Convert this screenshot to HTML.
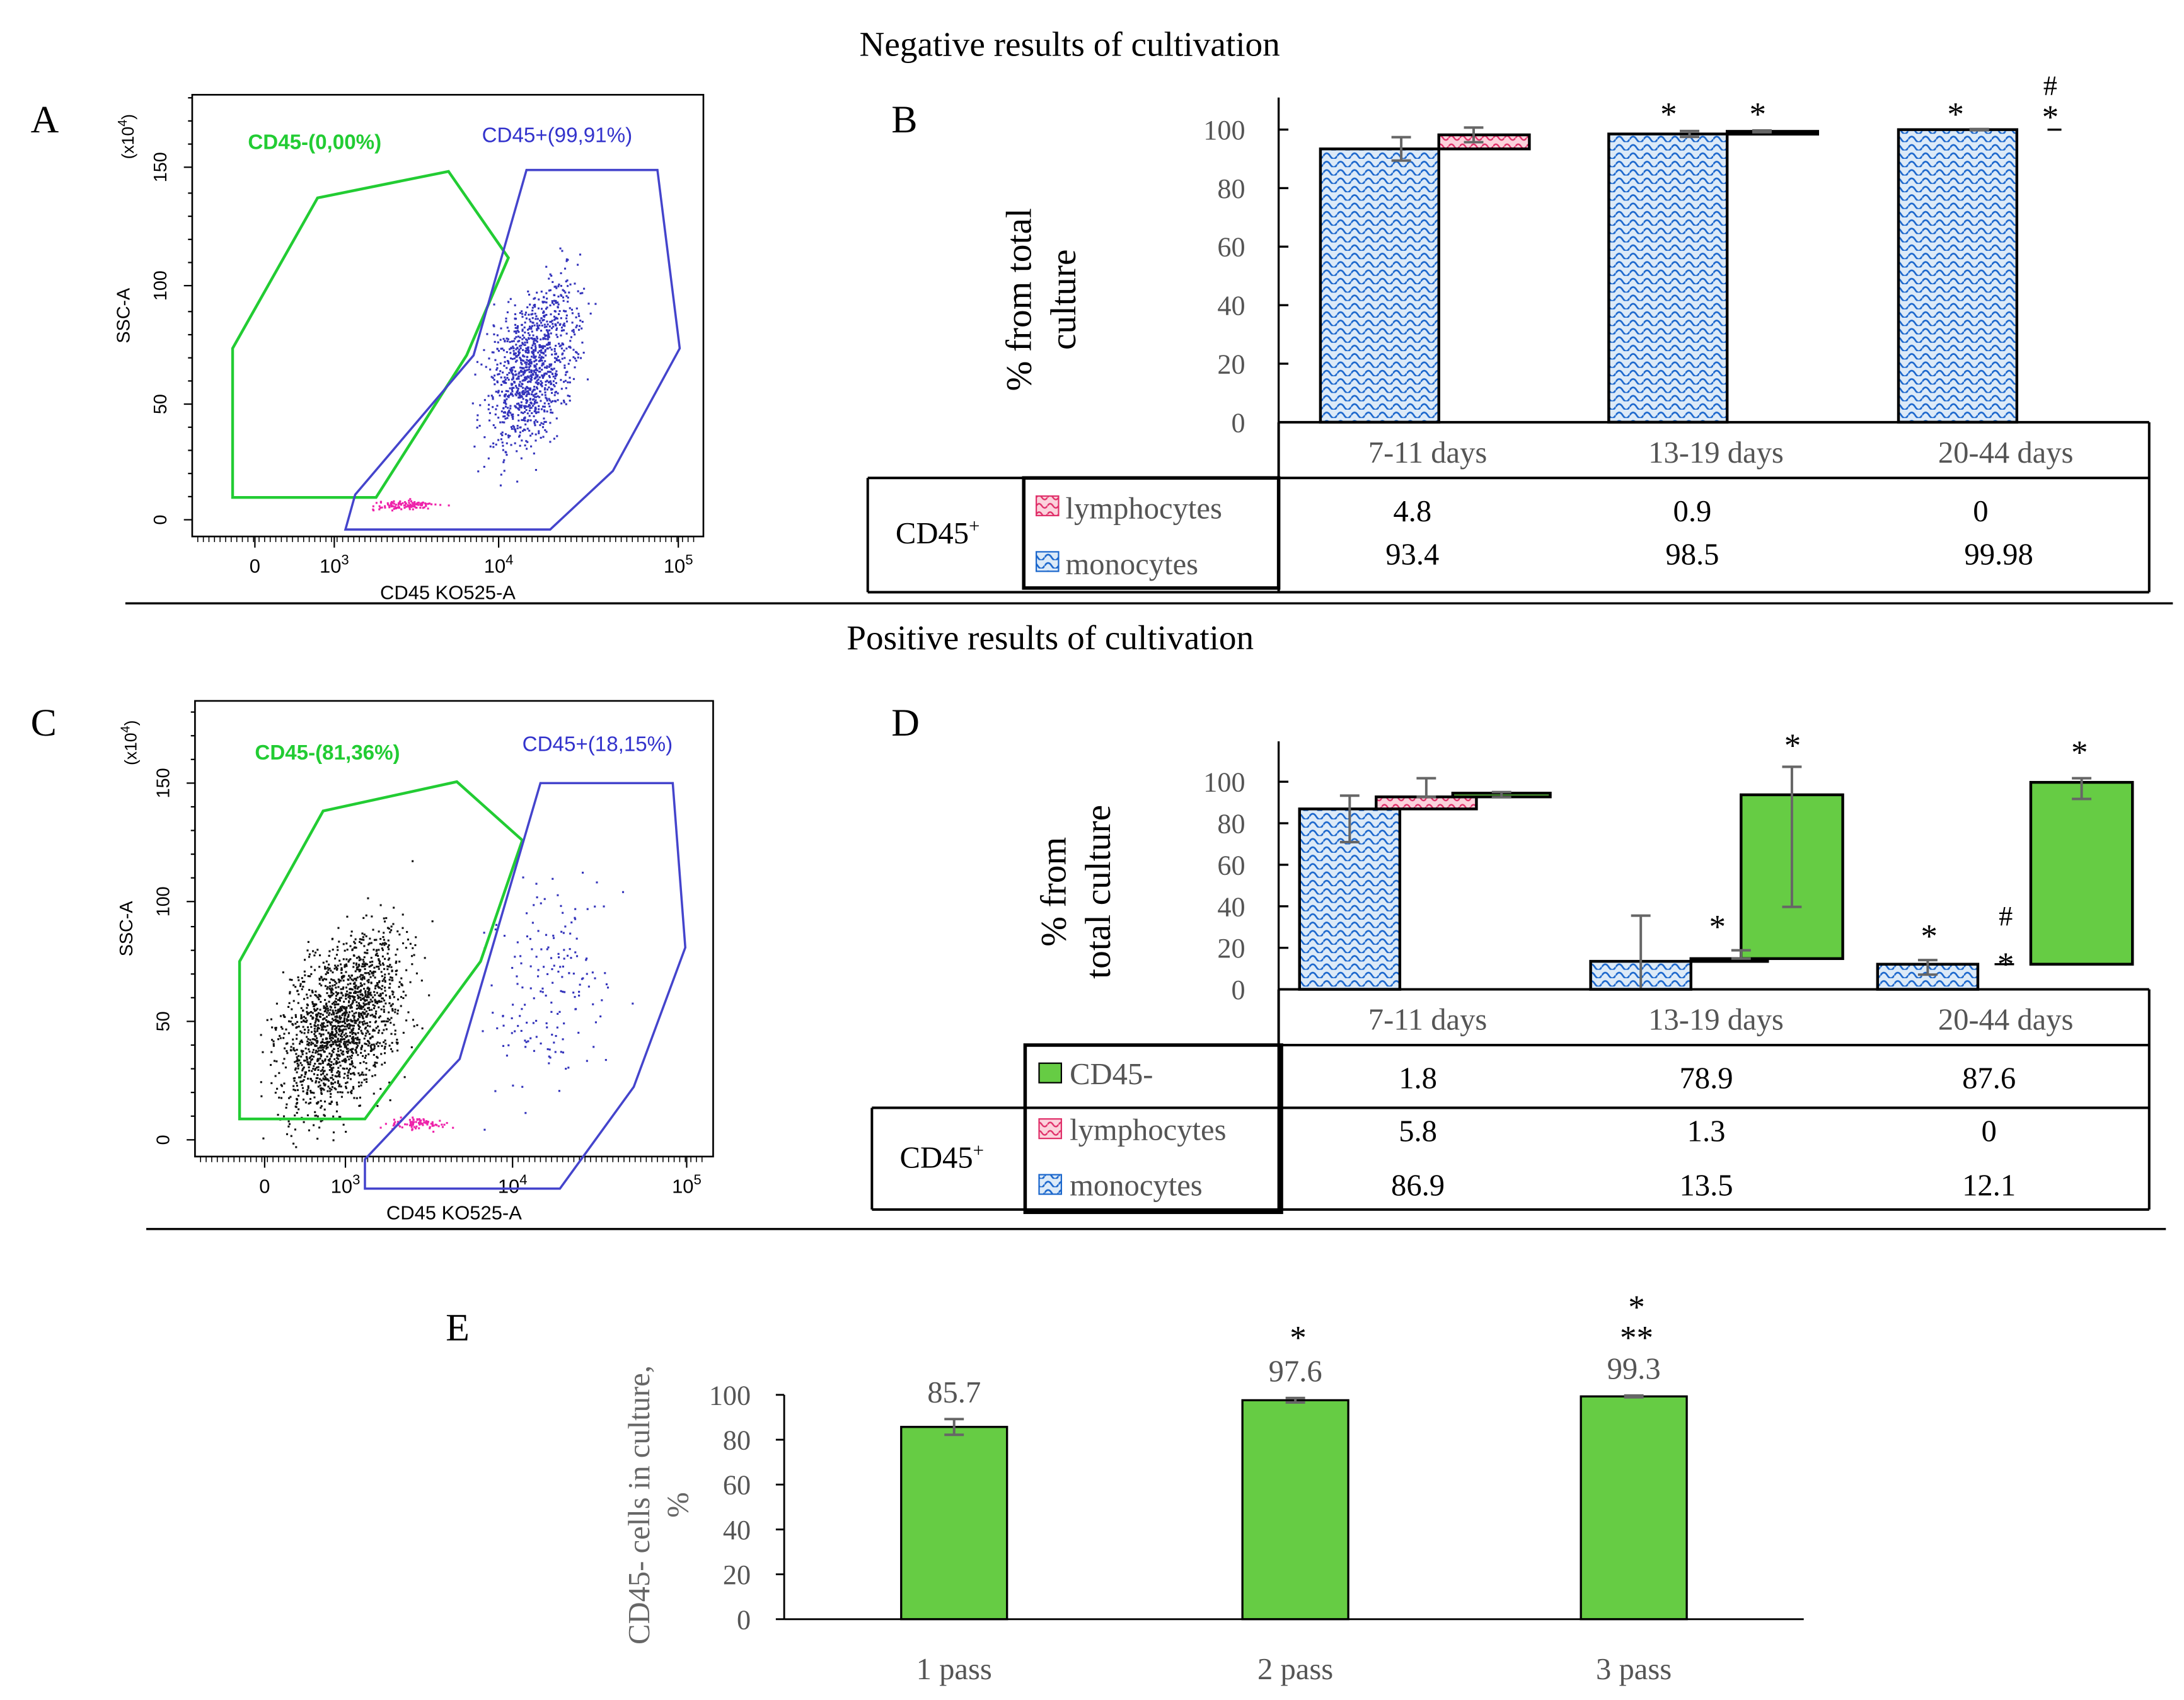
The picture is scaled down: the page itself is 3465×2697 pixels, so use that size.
<!DOCTYPE html>
<html><head><meta charset="utf-8"><style>
html,body{margin:0;padding:0;background:#fff;}
svg{display:block;}
.serif{font-family:"Liberation Serif",serif;}
.sans{font-family:"Liberation Sans",sans-serif;}
</style></head><body>
<svg id="fig" width="3465" height="2697" viewBox="0 0 1568 1220" preserveAspectRatio="none" xmlns="http://www.w3.org/2000/svg">
<defs>
<pattern id="wave" width="10" height="6" patternUnits="userSpaceOnUse">
<rect width="10" height="6" fill="#dceaf8"/>
<path d="M0 4 Q2.5 0 5 4 T10 4" fill="none" stroke="#1a66cc" stroke-width="1.2"/>
</pattern>
<pattern id="pink" width="8" height="6" patternUnits="userSpaceOnUse">
<rect width="8" height="6" fill="#fbd3dc"/>
<path d="M0 3 Q2 0 4 3 T8 3" fill="none" stroke="#e0306a" stroke-width="1.1"/>
</pattern>
</defs>
<g id="root"></g>
</svg>
<script>
// ---- Panel B data ----
const bCategories = ["7-11 days","13-19 days","20-44 days"];
const bMonocytes = [93.4, 98.5, 99.98];
const bLymphocytes = [4.8, 0.9, 0];
const bMonoErr = [4, 1, 0.2];
const bLymphErr = [2.5, 0.3, 0];
const bTicks = [0,20,40,60,80,100];
// ---- Panel D data ----
const dCategories = ["7-11 days","13-19 days","20-44 days"];
const dMonocytes = [86.9, 13.5, 12.1];
const dLymphocytes = [5.8, 1.3, 0];
const dCD45neg = [1.8, 78.9, 87.6];
const dMonoErr = [16, 55, 5];
const dLymphErr = [9, 4, 0];
const dNegErr = [1, 27, 4];
const dTicks = [0,20,40,60,80,100];
// ---- Panel E data ----
const eCategories = ["1 pass","2 pass","3 pass"];
const eValues = [85.7, 97.6, 99.3];
const eErr = [3.5, 1, 0.4];
const eTicks = [0,20,40,60,80,100];

const NS="http://www.w3.org/2000/svg";
const root=document.getElementById('root');
function el(tag,attrs,parent,txt){const e=document.createElementNS(NS,tag);for(const k in attrs)e.setAttribute(k,attrs[k]);if(txt!==undefined)e.textContent=txt;(parent||root).appendChild(e);return e;}

let t;
t=el('text',{x:768,y:40,'text-anchor':'middle','font-size':25,class:'serif',fill:'#000'},root,'Negative results of cultivation');


t=el('text',{x:754,y:466,'text-anchor':'middle','font-size':25,class:'serif',fill:'#000'},root,'Positive results of cultivation');


let ln=el('line',{x1:90,y1:433,x2:1560,y2:433,stroke:'#000','stroke-width':1.5});


ln=el('line',{x1:105,y1:882,x2:1555,y2:882,stroke:'#000','stroke-width':1.5});


[['A',22,95],['B',640,95],['C',22,528],['D',640,528],['E',320,962]].forEach(p=>{
 const e=el('text',{x:p[1],y:p[2],'font-size':28,class:'serif'},root,p[0]);
 
 
});

let seed=12345;function rnd(){seed=(seed*1103515245+12345)%2147483648;return seed/2147483648;}
function gauss(){return (rnd()+rnd()+rnd()+rnd()-2)/0.8;}

function flowPlot(cfg){
 const g=el('g',{});
 
 
 const {x0,y0,x1,y1}=cfg;
 el('rect',{x:x0,y:y0,width:x1-x0,height:y1-y0,fill:'none',stroke:'#000','stroke-width':1.2},g);
 cfg.yt.forEach(([v,y])=>{el('line',{x1:x0-6,y1:y,x2:x0,y2:y,stroke:'#000'},g);
  el('text',{x:x0-22,y:y,'font-size':13,class:'sans','text-anchor':'middle',transform:`rotate(-90 ${x0-22} ${y})`,'dominant-baseline':'middle'},g,v);
  for(let k=1;k<5;k++){const yy=y-k*(cfg.yt[0][1]-cfg.yt[1][1])/5; if(yy>y0) el('line',{x1:x0-3,y1:yy,x2:x0,y2:yy,stroke:'#000'},g);}
 });
 for(let x=x0+4;x<x1-5;x+=4){el('line',{x1:x,y1:y1,x2:x,y2:y1+4,stroke:'#000','stroke-width':0.7},g);}
 cfg.xt.forEach(([v,x])=>{el('line',{x1:x,y1:y1,x2:x,y2:y1+8,stroke:'#000'},g);
  const tx=el('text',{x:x,y:y1+26,'font-size':14,class:'sans','text-anchor':'middle'},g,v==='0'?'0':'10');
  if(v!=='0'){el('tspan',{dy:-6,'font-size':10},tx,v);}
 });
 el('text',{x:(x0+x1)/2,y:y1+45,'font-size':14,class:'sans','text-anchor':'middle'},g,'CD45 KO525-A');
 el('text',{x:x0-45,y:(y0+y1)/2,'font-size':13,class:'sans','text-anchor':'middle',transform:`rotate(-90 ${x0-45} ${(y0+y1)/2})`},g,'SSC-A');
 const lx=x0-42, ly=y0+30;
 const xt=el('text',{x:lx,y:ly,'font-size':12,class:'sans','text-anchor':'middle',transform:`rotate(-90 ${lx} ${ly})`},g,'(x10');
 el('tspan',{dy:-5,'font-size':9},xt,'4');el('tspan',{dy:5},xt,')');
 cfg.clouds.forEach(c=>{for(let i=0;i<c.n;i++){const px=c.cx+gauss()*c.sx, py=c.cy+gauss()*c.sy+ (px-c.cx)*(c.tilt||0);
   if(px>x0+2&&px<x1-2&&py>y0+2&&py<y1-2) el('rect',{x:px,y:py,width:1.4,height:1.4,fill:c.col},g);}});
 el('polygon',{points:cfg.green,fill:'none',stroke:'#22cc33','stroke-width':2},g);
 el('polygon',{points:cfg.blue,fill:'none',stroke:'#4444cc','stroke-width':1.6},g);
 el('text',{x:cfg.gl[0],y:cfg.gl[1],'font-size':15,class:'sans',fill:'#22cc33','font-weight':'bold'},g,cfg.gl[2]);
 el('text',{x:cfg.bl[0],y:cfg.bl[1],'font-size':15,class:'sans',fill:'#3333cc'},g,cfg.bl[2]);
}
flowPlot({name:'flow-plot-a',x0:138,y0:68,x1:505,y1:385,
 yt:[['0',373],['50',290],['100',205],['150',120]],
 xt:[['0',183],['3',240],['4',358],['5',487]],
 green:'167,357 167,250 228,142 322,123 365,185 335,255 270,357',
 blue:'248,380 255,355 340,255 378,122 472,122 488,250 440,338 395,380',
 gl:[178,107,'CD45-(0,00%)'],bl:[346,102,'CD45+(99,91%)'],
 clouds:[{n:1100,cx:382,cy:262,sx:22,sy:36,col:'#3333bb',tilt:-0.8},{n:110,cx:290,cy:362,sx:16,sy:2.5,col:'#ee22aa'}]});
flowPlot({name:'flow-plot-c',x0:140,y0:503,x1:512,y1:830,
 yt:[['0',818],['50',733],['100',647],['150',562]],
 xt:[['0',190],['3',248],['4',368],['5',493]],
 green:'172,803 172,690 232,582 328,561 375,603 345,690 262,803',
 blue:'262,853 262,832 330,760 388,562 483,562 492,680 455,780 402,853',
 gl:[183,545,'CD45-(81,36%)'],bl:[375,539,'CD45+(18,15%)'],
 clouds:[{n:1700,cx:245,cy:735,sx:30,sy:40,col:'#111',tilt:-0.6},{n:170,cx:395,cy:705,sx:30,sy:50,col:'#3333bb',tilt:-0.5},{n:90,cx:300,cy:806,sx:15,sy:3,col:'#ee22aa'}]});

function errBar(g,x,top,bot,name){
 const e=el('g',{stroke:'#666','stroke-width':1.8},g);
 
 
 el('line',{x1:x,y1:top,x2:x,y2:bot},e);el('line',{x1:x-7,y1:top,x2:x+7,y2:top},e);el('line',{x1:x-7,y1:bot,x2:x+7,y2:bot},e);
}
function star(g,x,y,s){el('text',{x:x,y:y,'font-size':24,'text-anchor':'middle',class:'serif'},g,s);}

// ---- Panel B ----
(function(){
 const g=el('g',{});
 const AX=918,Y0=303,YT=93;
 const sy=v=>Y0-v/100*(Y0-YT);
 el('line',{x1:AX,y1:70,x2:AX,y2:Y0,stroke:'#000','stroke-width':1.5},g);
 bTicks.forEach(v=>{el('line',{x1:AX,y1:sy(v),x2:AX+7,y2:sy(v),stroke:'#000','stroke-width':1.5},g);
  el('text',{x:AX-24,y:sy(v)+7,'font-size':20,'text-anchor':'end',class:'serif',fill:'#555'},g,v);});
 el('text',{x:740,y:215,'font-size':26,'text-anchor':'middle',class:'serif',transform:'rotate(-90 740 215)'},g,'% from total');
 el('text',{x:772,y:215,'font-size':26,'text-anchor':'middle',class:'serif',transform:'rotate(-90 772 215)'},g,'culture');
 const cx=[1025,1232,1440];
 bCategories.forEach((c,i)=>{
  const mx=cx[i]-77, mw=85;
  const r=el('rect',{x:mx,y:sy(bMonocytes[i]),width:mw,height:Y0-sy(bMonocytes[i]),fill:'url(#wave)',stroke:'#000','stroke-width':2},g);
  
  
  const top=bMonocytes[i]+bLymphocytes[i];
  if(bLymphocytes[i]>0.5){const l=el('rect',{x:mx+mw,y:sy(top),width:65,height:Math.max(2,sy(bMonocytes[i])-sy(top)),fill:'url(#pink)',stroke:'#000','stroke-width':2},g);
   }
  else if(bLymphocytes[i]>0){el('line',{x1:mx+mw,y1:sy(top),x2:mx+mw+65,y2:sy(top),stroke:'#000','stroke-width':2.5},g);}
  else {el('line',{x1:mx+mw+22,y1:sy(top),x2:mx+mw+32,y2:sy(top),stroke:'#000','stroke-width':1.5},g);}
  errBar(g,mx+58,sy(bMonocytes[i]+bMonoErr[i]),sy(bMonocytes[i]-bMonoErr[i]),'err-b-mono-'+i);
  if(bLymphErr[i]>0) errBar(g,mx+mw+25,sy(top+bLymphErr[i]),sy(top-bLymphErr[i]),'err-b-lymph-'+i);
 });
 star(g,1198,90,'*');star(g,1262,90,'*');star(g,1404,90,'*');
 star(g,1472,92,'*');el('text',{x:1472,y:68,'font-size':20,'text-anchor':'middle',class:'serif'},g,'#');
 const L={stroke:'#000','stroke-width':1.8};
 el('line',{x1:AX,y1:Y0,x2:1543,y2:Y0,...L},g);
 el('line',{x1:623,y1:343,x2:1543,y2:343,...L},g);
 el('line',{x1:AX,y1:Y0,x2:AX,y2:425,...L},g);
 el('line',{x1:1543,y1:Y0,x2:1543,y2:425,...L},g);
 el('line',{x1:623,y1:425,x2:1543,y2:425,...L},g);
 el('line',{x1:623,y1:343,x2:623,y2:425,...L},g);
 el('rect',{x:735,y:343,width:183,height:79,fill:'none',stroke:'#000','stroke-width':2.5},g);
 bCategories.forEach((c,i)=>{el('text',{x:cx[i],y:332,'font-size':22,'text-anchor':'middle',class:'serif',fill:'#555'},g,c);
  el('text',{x:[1014,1215,1422][i],y:374,'font-size':22,'text-anchor':'middle',class:'serif'},g,bLymphocytes[i]);
  el('text',{x:[1014,1215,1435][i],y:405,'font-size':22,'text-anchor':'middle',class:'serif'},g,bMonocytes[i]);});
 const c45=el('text',{x:643,y:390,'font-size':22,class:'serif'},g,'CD45');el('tspan',{dy:-8,'font-size':14},c45,'+');
 el('rect',{x:744,y:356,width:16,height:14,fill:'url(#pink)',stroke:'#e0306a'},g);
 el('text',{x:765,y:372,'font-size':22,class:'serif',fill:'#555'},g,'lymphocytes');
 el('rect',{x:744,y:396,width:16,height:14,fill:'url(#wave)',stroke:'#1a66cc'},g);
 el('text',{x:765,y:412,'font-size':22,class:'serif',fill:'#555'},g,'monocytes');
})();

// ---- Panel D ----
(function(){
 const g=el('g',{});
 const AX=918,Y0=710,YT=561;
 const sy=v=>Y0-v/100*(Y0-YT);
 el('line',{x1:AX,y1:532,x2:AX,y2:Y0,stroke:'#000','stroke-width':1.5},g);
 dTicks.forEach(v=>{el('line',{x1:AX,y1:sy(v),x2:AX+7,y2:sy(v),stroke:'#000','stroke-width':1.5},g);
  el('text',{x:AX-24,y:sy(v)+7,'font-size':20,'text-anchor':'end',class:'serif',fill:'#555'},g,v);});
 el('text',{x:765,y:640,'font-size':26,'text-anchor':'middle',class:'serif',transform:'rotate(-90 765 640)'},g,'% from');
 el('text',{x:797,y:640,'font-size':26,'text-anchor':'middle',class:'serif',transform:'rotate(-90 797 640)'},g,'total culture');
 const mxs=[933,1142,1348];
 dCategories.forEach((c,i)=>{
  const mx=mxs[i],mw=72;
  const r=el('rect',{x:mx,y:sy(dMonocytes[i]),width:mw,height:Y0-sy(dMonocytes[i]),fill:'url(#wave)',stroke:'#000','stroke-width':2},g);
  
  const lt=dMonocytes[i]+dLymphocytes[i];
  const lx=mx+mw-(i===0?17:0);
  if(dLymphocytes[i]>3){const l=el('rect',{x:lx,y:sy(lt),width:72,height:sy(dMonocytes[i])-sy(lt),fill:'url(#pink)',stroke:'#000','stroke-width':2},g);
   }
  else if(dLymphocytes[i]>0){el('rect',{x:lx,y:sy(lt),width:55,height:Math.max(2,sy(dMonocytes[i])-sy(lt)),fill:'url(#pink)',stroke:'#000','stroke-width':2},g);}
  else el('line',{x1:lx+12,y1:sy(lt),x2:lx+26,y2:sy(lt),stroke:'#000','stroke-width':1.5},g);
  const nt=lt+dCD45neg[i];
  const nx=i===0?1043:(i===1?1250:1458), nw=i===0?70:73;
  const n=el('rect',{x:nx,y:sy(nt),width:nw,height:Math.max(2.5,sy(lt)-sy(nt)),fill:'#66cc44',stroke:'#000','stroke-width':2},g);
  
  errBar(g,mx+mw/2,sy(dMonocytes[i]+dMonoErr[i]*0.4),sy(Math.max(0,dMonocytes[i]-dMonoErr[i])),'err-d-mono-'+i);
  if(dLymphErr[i]>0) errBar(g,lx+36,sy(lt+dLymphErr[i]),sy(lt),'err-d-lymph-'+i);
  errBar(g,nx+nw/2,sy(nt+dNegErr[i]*0.5),sy(nt-dNegErr[i]*2),'err-d-neg-'+i);
 });
 star(g,1233,673,'*');star(g,1287,543,'*');star(g,1385,680,'*');star(g,1493,548,'*');
 star(g,1440,700,'*');el('text',{x:1440,y:664,'font-size':20,'text-anchor':'middle',class:'serif'},g,'#');
 const L={stroke:'#000','stroke-width':1.8};
 el('line',{x1:AX,y1:Y0,x2:1543,y2:Y0,...L},g);
 el('line',{x1:736,y1:750,x2:1543,y2:750,...L},g);
 el('line',{x1:626,y1:795,x2:1543,y2:795,...L},g);
 el('line',{x1:AX,y1:Y0,x2:AX,y2:868,...L},g);
 el('line',{x1:1543,y1:Y0,x2:1543,y2:868,...L},g);
 el('line',{x1:626,y1:868,x2:1543,y2:868,...L},g);
 el('line',{x1:626,y1:795,x2:626,y2:868,...L},g);
 el('rect',{x:736,y:750,width:184,height:120,fill:'none',stroke:'#000','stroke-width':2.5},g);
 const cx=[1025,1232,1440];
 dCategories.forEach((c,i)=>{el('text',{x:cx[i],y:739,'font-size':22,'text-anchor':'middle',class:'serif',fill:'#555'},g,c);
  el('text',{x:[1018,1225,1428][i],y:781,'font-size':22,'text-anchor':'middle',class:'serif'},g,dCD45neg[i]);
  el('text',{x:[1018,1225,1428][i],y:819,'font-size':22,'text-anchor':'middle',class:'serif'},g,dLymphocytes[i]);
  el('text',{x:[1018,1225,1428][i],y:858,'font-size':22,'text-anchor':'middle',class:'serif'},g,dMonocytes[i]);});
 const c45=el('text',{x:646,y:838,'font-size':22,class:'serif'},g,'CD45');el('tspan',{dy:-8,'font-size':14},c45,'+');
 el('rect',{x:746,y:763,width:16,height:14,fill:'#66cc44',stroke:'#000'},g);
 el('text',{x:768,y:778,'font-size':22,class:'serif',fill:'#555'},g,'CD45-');
 el('rect',{x:746,y:803,width:16,height:14,fill:'url(#pink)',stroke:'#e0306a'},g);
 el('text',{x:768,y:818,'font-size':22,class:'serif',fill:'#555'},g,'lymphocytes');
 el('rect',{x:746,y:843,width:16,height:14,fill:'url(#wave)',stroke:'#1a66cc'},g);
 el('text',{x:768,y:858,'font-size':22,class:'serif',fill:'#555'},g,'monocytes');
})();

// ---- Panel E ----
(function(){
 const g=el('g',{});
 const AX=563,Y0=1162,YT=1001;
 const sy=v=>Y0-v/100*(Y0-YT);
 el('line',{x1:AX,y1:YT,x2:AX,y2:Y0,stroke:'#000','stroke-width':1.3},g);
 el('line',{x1:AX,y1:Y0,x2:1295,y2:Y0,stroke:'#000','stroke-width':1.3},g);
 eTicks.forEach(v=>{el('line',{x1:AX-6,y1:sy(v),x2:AX,y2:sy(v),stroke:'#000','stroke-width':1.3},g);
  el('text',{x:AX-24,y:sy(v)+7,'font-size':20,'text-anchor':'end',class:'serif',fill:'#555'},g,v);});
 el('text',{x:466,y:1080,'font-size':22,'text-anchor':'middle',class:'serif',fill:'#666',transform:'rotate(-90 466 1080)'},g,'CD45- cells in culture,');
 el('text',{x:494,y:1080,'font-size':22,'text-anchor':'middle',class:'serif',fill:'#666',transform:'rotate(-90 494 1080)'},g,'%');
 const cx=[685,930,1173];
 eCategories.forEach((c,i)=>{
  const r=el('rect',{x:cx[i]-38,y:sy(eValues[i]),width:76,height:Y0-sy(eValues[i]),fill:'#66cc44',stroke:'#000','stroke-width':1.5},g);
  
  errBar(g,cx[i],sy(eValues[i]+eErr[i]),sy(eValues[i]-eErr[i]),'err-e-'+i);
  el('text',{x:cx[i],y:sy(eValues[i]+eErr[i])-12,'font-size':22,'text-anchor':'middle',class:'serif',fill:'#555'},g,eValues[i]);
  el('text',{x:cx[i],y:1205,'font-size':22,'text-anchor':'middle',class:'serif',fill:'#555'},g,c);
 });
 star(g,932,968,'*');star(g,1175,946,'*');star(g,1175,968,'**');
})();
</script>
</body></html>
